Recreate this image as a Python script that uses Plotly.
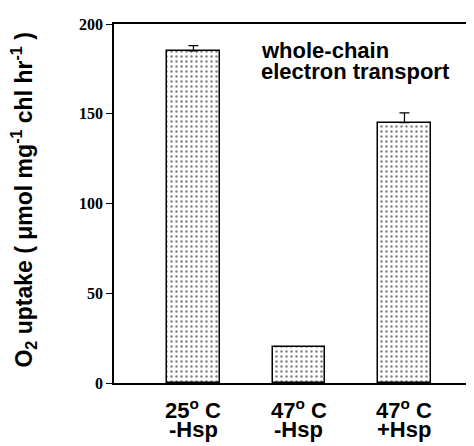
import plotly.graph_objects as go

cat_line1 = ["25<sup>o</sup> C", "47<sup>o</sup> C", "47<sup>o</sup> C"]
cat_line2 = ["-Hsp", "-Hsp", "+Hsp"]
values = [185, 20, 145]
errors = [3, None, 5.5]
y_ticks = [0, 50, 100, 150, 200]
note_lines = ["whole-chain", "electron transport"]

xs = list(range(len(values)))
fig = go.Figure()
fig.add_trace(go.Bar(
    x=xs, y=values, width=0.5,
    marker=dict(color="white", line=dict(color="black", width=1.5),
                pattern=dict(shape=".", size=5, solidity=0.18, fgcolor="black", bgcolor="white")),
))
err_x = [x for x, e in zip(xs, errors) if e is not None]
err_y = [v for v, e in zip(values, errors) if e is not None]
err_e = [e for e in errors if e is not None]
fig.add_trace(go.Scatter(
    x=err_x, y=err_y, mode="markers", marker=dict(size=0.1, color="rgba(0,0,0,0)"),
    error_y=dict(type="data", array=err_e, symmetric=False, arrayminus=[0] * len(err_e),
                 color="black", thickness=1.2, width=5, visible=True),
    hoverinfo="skip",
))

lab_font = dict(family="Liberation Sans", size=22, color="black", weight="bold")
for i in xs:
    fig.add_annotation(x=i, y=-0.0738, xref="x", yref="paper", text=cat_line1[i], showarrow=False,
                       xanchor="center", yanchor="middle", font=lab_font)
    fig.add_annotation(x=i, y=-0.1285, xref="x", yref="paper", text=cat_line2[i], showarrow=False,
                       xanchor="center", yanchor="middle", font=lab_font)

for t, yv in zip(note_lines, [185.5, 173.3]):
    fig.add_annotation(x=0.625, y=yv, xref="x", yref="y", xanchor="left", yanchor="middle",
                       text=t, showarrow=False, font=lab_font)

fig.add_annotation(x=-0.2528, y=0.511, xref="paper", yref="paper", xanchor="center", yanchor="middle",
                   textangle=-90, showarrow=False,
                   text="O<sub>2</sub> uptake ( μmol mg<sup>-1</sup> chl hr<sup>-1</sup> )",
                   font=dict(family="Liberation Sans", size=23, color="black", weight="bold"))

fig.update_layout(
    width=474, height=446, margin=dict(l=106, r=8, t=9, b=71),
    paper_bgcolor="white", plot_bgcolor="white", showlegend=False, bargap=0,
    xaxis=dict(range=[-0.753, 2.659], showticklabels=False,
               showline=True, mirror=True, linecolor="black", linewidth=1.5,
               ticks="", showgrid=False, zeroline=False),
    yaxis=dict(range=[0, 200], tickvals=y_ticks, showline=True, linecolor="black", linewidth=1.5,
               ticks="outside", ticklen=6, tickcolor="black", tickwidth=1.2,
               showgrid=False, zeroline=False,
               tickfont=dict(family="Liberation Serif", size=16, color="black", weight="bold")),
)

fig.write_html("out.html")
